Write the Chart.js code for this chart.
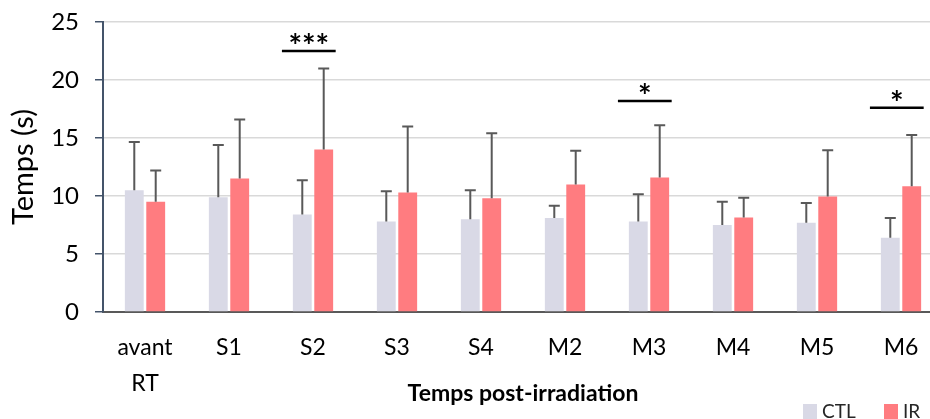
<!DOCTYPE html>
<html>
<head>
<meta charset="utf-8">
<script src="https://cdn.jsdelivr.net/npm/chart.js@4"></script>
<style>
  html, body { margin: 0; padding: 0; background: #fff; overflow: hidden; }
  #wrap { width: 945px; height: 419px; }
</style>
</head>
<body>
<div id="wrap"><canvas id="chart" width="945" height="419"></canvas></div>
<script>
// categories and values
const categories = [["avant", "RT"], "S1", "S2", "S3", "S4", "M2", "M3", "M4", "M5", "M6"]
const ctlValues = [10.5, 9.9, 8.4, 7.8, 8.0, 8.1, 7.8, 7.5, 7.7, 6.4]
const ctlSd = [4.15, 4.5, 2.95, 2.6, 2.5, 1.05, 2.35, 2.0, 1.7, 1.7]
const irValues = [9.5, 11.5, 14.0, 10.3, 9.8, 11.0, 11.6, 8.15, 9.95, 10.85]
const irSd = [2.7, 5.1, 7.0, 5.7, 5.6, 2.9, 4.5, 1.7, 4.0, 4.4]
const yTicks = [0, 5, 10, 15, 20, 25]

// significance marks: category index, level, label
const sigIndex = [2, 6, 9]
const sigLevel = [22.5, 18.2, 17.6]
const sigLabel = ["***", "*", "*"]

const FONT = "Lato, 'Open Sans', sans-serif"

const errorBars = {
    id: 'errorBars',
    afterDatasetsDraw(chart) {
        const ctx = chart.ctx
        const y = chart.scales.y
        ctx.save()
        ctx.strokeStyle = '#595959'
        ctx.lineWidth = 2
        chart.data.datasets.forEach((ds, di) => {
            const meta = chart.getDatasetMeta(di)
            meta.data.forEach((bar, i) => {
                const top = y.getPixelForValue(ds.data[i] + ds.sd[i])
                ctx.beginPath()
                ctx.moveTo(bar.x, bar.y)
                ctx.lineTo(bar.x, top)
                ctx.moveTo(bar.x - 5.5, top)
                ctx.lineTo(bar.x + 5.5, top)
                ctx.stroke()
            })
        })
        ctx.restore()
    }
}

const significance = {
    id: 'significance',
    afterDatasetsDraw(chart) {
        const ctx = chart.ctx
        const x = chart.scales.x
        const y = chart.scales.y
        ctx.save()
        ctx.strokeStyle = '#000'
        ctx.fillStyle = '#000'
        ctx.lineWidth = 2.5
        ctx.font = "bold 32px " + FONT
        ctx.textAlign = 'center'
        ctx.textBaseline = 'alphabetic'
        for (let k = 0; k < sigIndex.length; k++) {
            const x1 = x.getPixelForValue(sigIndex[k] - 0.37)
            const x2 = x.getPixelForValue(sigIndex[k] + 0.27)
            const py = y.getPixelForValue(sigLevel[k])
            ctx.beginPath()
            ctx.moveTo(x1, py)
            ctx.lineTo(x2, py)
            ctx.stroke()
            ctx.fillText(sigLabel[k], (x1 + x2) / 2, py + 7)
        }
        ctx.restore()
    }
}

const bottomLegend = {
    id: 'bottomLegend',
    afterDraw(chart) {
        const ctx = chart.ctx
        ctx.save()
        ctx.font = "19px " + FONT
        ctx.textBaseline = 'alphabetic'
        const items = [803, 884]
        chart.data.datasets.forEach((ds, di) => {
            const lx = items[di]
            ctx.fillStyle = ds.backgroundColor
            ctx.fillRect(lx, 404, 14, 15)
            ctx.fillStyle = '#262626'
            ctx.fillText(ds.label, lx + 19, 418)
        })
        ctx.restore()
    }
}

new Chart("chart", {
    type: "bar",
    data: {
        labels: categories,
        datasets: [
            {
                label: 'CTL',
                data: ctlValues,
                sd: ctlSd,
                backgroundColor: '#D9D9E6',
                categoryPercentage: 0.51,
                barPercentage: 0.88
            },
            {
                label: 'IR',
                data: irValues,
                sd: irSd,
                backgroundColor: '#FF7C80',
                categoryPercentage: 0.51,
                barPercentage: 0.88
            }
        ]
    },
    options: {
        responsive: false,
        animation: false,
        layout: { padding: { top: 22, right: 2, left: 0, bottom: 0 } },
        plugins: {
            legend: { display: false },
            tooltip: { enabled: false }
        },
        scales: {
            x: {
                grid: { display: false, drawTicks: true, tickLength: 8, tickColor: '#595959', offset: true },
                border: { color: '#595959', width: 2 },
                ticks: { color: '#000', font: { family: FONT, size: 23, lineHeight: 1.55 }, padding: 10, maxRotation: 0 },
                title: { display: true, text: 'Temps post-irradiation', color: '#000',
                         font: { family: FONT, size: 23, weight: 'bold' }, padding: { top: 0, bottom: 12 } },
                afterFit(scale) { scale.height = 107 }
            },
            y: {
                min: 0, max: 25,
                afterBuildTicks(scale) { scale.ticks = yTicks.map(v => ({ value: v })) },
                grid: { color: '#D9D9D9', lineWidth: 1.5, tickLength: 8, tickColor: '#44546A' },
                border: { color: '#44546A', width: 2 },
                ticks: { color: '#000', font: { family: FONT, size: 24 }, padding: 16 },
                title: { display: true, text: 'Temps (s)', color: '#000',
                         font: { family: FONT, size: 29 }, padding: { top: 6, bottom: 0 } },
                afterFit(scale) {
                    scale.width = 103
                    scale.paddingTop = 0
                    scale.paddingBottom = 0
                }
            }
        }
    },
    plugins: [errorBars, significance, bottomLegend]
});
</script>
</body>
</html>
